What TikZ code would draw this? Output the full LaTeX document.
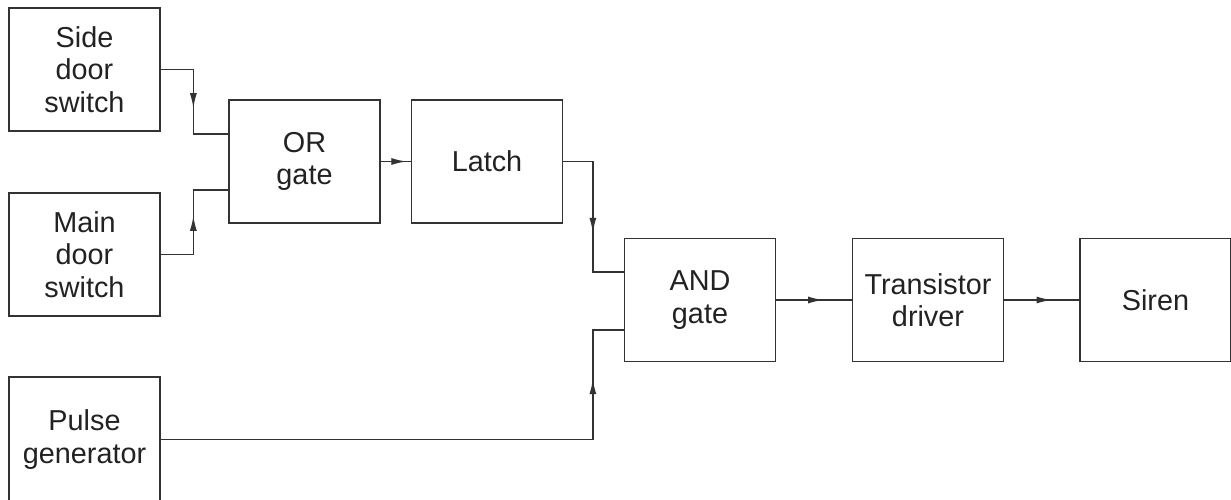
\documentclass[tikz,border=0pt]{standalone}
\usepackage{fontspec}
\setmainfont{Liberation Sans}
\usetikzlibrary{arrows.meta,positioning,calc,decorations.markings}
\definecolor{ink}{HTML}{333333}
\definecolor{lettering}{HTML}{222222}

\begin{document}
\begin{tikzpicture}[x=0.02cm,y=-0.02cm,>=Latex]
\tikzset{box/.style={draw=ink,line width=0.75pt,minimum width=3.02cm,minimum height=2.46cm,inner sep=0pt,align=center,text=lettering,font=\fontsize{16.4}{18.4}\selectfont},
wire/.style={draw=ink,line width=0.75pt},
arrowat/.style={postaction={decorate},decoration={markings,mark=at position #1 with {\arrow{Latex[length=0.3cm,width=0.14cm]}}}}}
\useasboundingbox (0,0) rectangle (1231,500);
\node[box] (side) at (84.5,69.5) {Side\\door\\switch};
\node[box] (main) at (84.5,254.5) {Main\\door\\switch};
\node[box,minimum height=2.5cm] (pulse) at (84.5,439.5) {Pulse\\generator};
\node[box] (or) at (304.5,161.5) {OR\\gate};
\node[box] (latch) at (487,161.5) {Latch};
\node[box] (and) at (700,300) {AND\\gate};
\node[box] (drv) at (928,300) {Transistor\\driver};
\node[box] (siren) at (1155.5,300) {Siren};
\draw[wire,arrowat=0.54] (side.east) -| ($(or.west)+(-35,-27.5)$) -- ($(or.west)+(0,-27.5)$);
\draw[wire,arrowat=0.54] (main.east) -| ($(or.west)+(-35,28.5)$) -- ($(or.west)+(0,28.5)$);
\draw[wire,arrowat=0.85] (or.east) -- (latch.west);
\draw[wire,arrowat=0.59] (latch.east) -| ($(and.west)+(-31,-28)$) -- ($(and.west)+(0,-28)$);
\draw[wire,arrowat=0.86] (pulse.east) -| ($(and.west)+(-31,30)$) -- ($(and.west)+(0,30)$);
\draw[wire,arrowat=0.62] (and.east) -- (drv.west);
\draw[wire,arrowat=0.63] (drv.east) -- (siren.west);
\end{tikzpicture}
\end{document}
